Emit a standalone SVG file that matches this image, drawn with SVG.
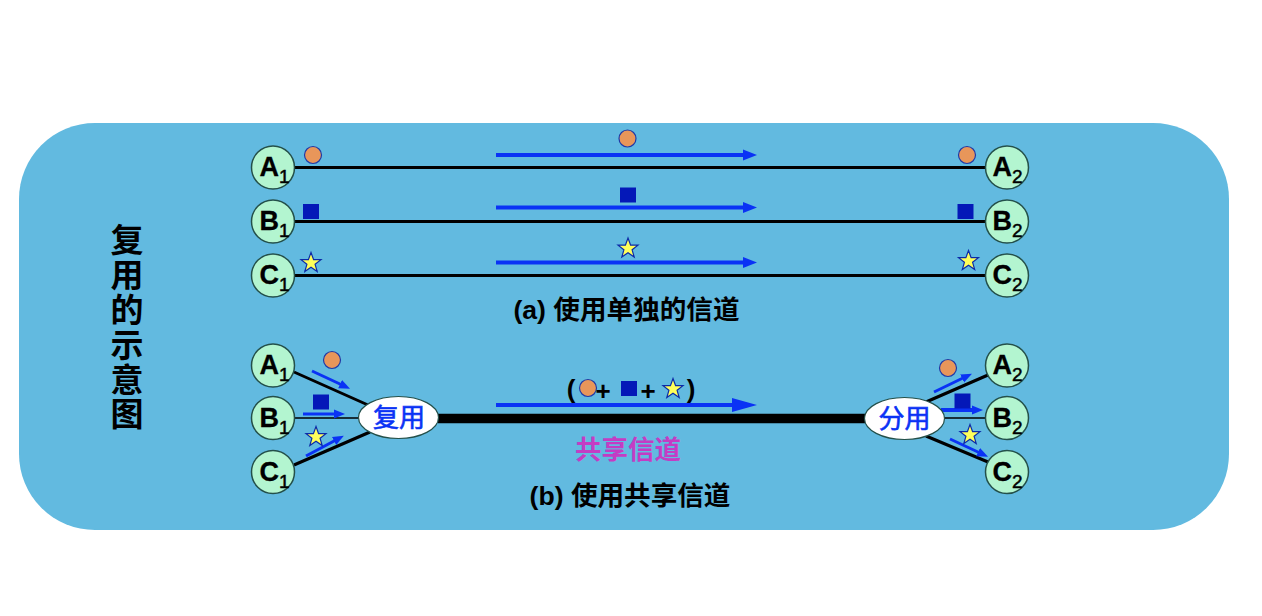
<svg xmlns="http://www.w3.org/2000/svg" width="1262" height="616" viewBox="0 0 1262 616">
<style>
text{font-family:"Liberation Sans","Noto Sans CJK SC",sans-serif}
.n{fill:#b3f5d0;stroke:#24504a;stroke-width:1.5}
.l{font-size:27px;font-weight:700;fill:#000;stroke:#000;stroke-width:.3}
.s{font-size:19px;font-weight:400;stroke:#000;stroke-width:.5}
.k{stroke:#000;fill:none}
.w3{stroke-width:3}
.w1{stroke-width:1.5}
.b{stroke:#0a32f5;stroke-width:4;fill:none}
.t{stroke:#0a32f5;stroke-width:3;fill:none}
.h{fill:#0a32f5}
.mux{fill:#fff;stroke:#24504a;stroke-width:1.2}
.mt{font-size:26px;font-weight:400;fill:#0a32f5;text-anchor:middle;stroke:#0a32f5;stroke-width:.6}
.cap{font-size:26.6px;font-weight:700;fill:#000;text-anchor:middle}
</style>
<defs>
<circle id="dot" r="8.5" fill="#e8965a" stroke="#1f3aa8" stroke-width="1.2"/>
<rect id="sq" x="-8" y="-7.500" width="16" height="15" fill="#0418b8"/>
<polygon id="star" points="0,-10.500 2.600,-3.400 10,-3.300 4.100,1.300 6.200,8.500 0,4.300 -6.200,8.500 -4.100,1.300 -10,-3.300 -2.600,-3.400" fill="#ffff5a" stroke="#0c2aa8" stroke-width="1.2"/>
<marker id="ah" markerUnits="userSpaceOnUse" markerWidth="14" markerHeight="12" refX="0" refY="6" orient="auto"><path d="M0,0.500L14,6L0,11.500Z" fill="#0a32f5"/></marker>
<marker id="as" markerUnits="userSpaceOnUse" markerWidth="12" markerHeight="10" refX="1" refY="5" orient="auto"><path d="M0,0.500L11,5L0,9.500Z" fill="#0a32f5"/></marker>
</defs>
<rect id="panel" x="19" y="123" width="1210" height="407" rx="76" ry="76" fill="#62bae0"/>
<text id="title" x="127 127 127 127 127 127" y="252 287 322 357 392 426" font-size="33" font-weight="700" text-anchor="middle">复用的示意图</text>
<g id="connectors">
<path class="k w3" d="M295 167.500H985M295 221.500H985M295 275.500H985"/>
<path class="k w3" d="M294 372L368 405M294 465L370 432M926 402L988 375M926 436L988 462"/>
<path class="k w1" d="M295 418H360M944 418H985"/>
<path d="M438 418.500H866" stroke="#000" stroke-width="9.500" fill="none"/>
<path class="b" d="M496 155H743" marker-end="url(#ah)"/>
<path class="b" d="M496 207.500H743" marker-end="url(#ah)"/>
<path class="b" d="M496 262.500H743" marker-end="url(#ah)"/>
<path class="t" d="M312 371L341 384.500" marker-end="url(#as)"/>
<path class="t" d="M303 414H335" marker-end="url(#as)"/>
<path class="t" d="M306 456L335 440.500" marker-end="url(#as)"/>
<path class="t" d="M934 392L963 378" marker-end="url(#as)"/>
<path class="b" d="M941 410H973" marker-end="url(#as)"/>
<path class="t" d="M950 439L979 452.500" marker-end="url(#as)"/>
<path class="b" d="M496 405H733"/>
<path class="h" d="M732 398L757 405L732 412Z"/>
</g>
<g id="tokens">
<use href="#dot" x="313" y="155"/><use href="#sq" x="311" y="211.500"/><use href="#star" x="311" y="263"/>
<use href="#dot" x="627.500" y="138.500"/><use href="#sq" x="628" y="195"/><use href="#star" x="628" y="248.500"/>
<use href="#dot" x="967" y="155"/><use href="#sq" x="965.500" y="211.500"/><use href="#star" x="968.500" y="261"/>
<use href="#dot" x="332" y="360"/><use href="#sq" x="321" y="402"/><use href="#star" x="316" y="437"/>
<use href="#dot" x="948" y="368"/><use href="#sq" x="962.500" y="401"/><use href="#star" x="970" y="435"/>
<use href="#dot" x="588" y="388"/><use href="#sq" x="629" y="388.500"/><use href="#star" x="673" y="389"/>
</g>
<g id="node-a1-top"><circle class="n" cx="273" cy="167.500" r="21.500"/><text class="l" x="259.500" y="176">A<tspan class="s" dy="7">1</tspan></text></g>
<g id="node-b1-top"><circle class="n" cx="273" cy="221.500" r="21.500"/><text class="l" x="259.500" y="230">B<tspan class="s" dy="7">1</tspan></text></g>
<g id="node-c1-top"><circle class="n" cx="273" cy="275.500" r="21.500"/><text class="l" x="259.500" y="284">C<tspan class="s" dy="7">1</tspan></text></g>
<g id="node-a2-top"><circle class="n" cx="1007" cy="167.500" r="21.500"/><text class="l" x="992.500" y="176">A<tspan class="s" dy="7">2</tspan></text></g>
<g id="node-b2-top"><circle class="n" cx="1007" cy="221.500" r="21.500"/><text class="l" x="992.500" y="230">B<tspan class="s" dy="7">2</tspan></text></g>
<g id="node-c2-top"><circle class="n" cx="1007" cy="275.500" r="21.500"/><text class="l" x="992.500" y="284">C<tspan class="s" dy="7">2</tspan></text></g>
<g id="node-a1-bot"><circle class="n" cx="273" cy="365.500" r="21.500"/><text class="l" x="259.500" y="374">A<tspan class="s" dy="7">1</tspan></text></g>
<g id="node-b1-bot"><circle class="n" cx="273" cy="418" r="21.500"/><text class="l" x="259.500" y="426.500">B<tspan class="s" dy="7">1</tspan></text></g>
<g id="node-c1-bot"><circle class="n" cx="273" cy="472" r="21.500"/><text class="l" x="259.500" y="480.500">C<tspan class="s" dy="7">1</tspan></text></g>
<g id="node-a2-bot"><circle class="n" cx="1007" cy="365.500" r="21.500"/><text class="l" x="992.500" y="374">A<tspan class="s" dy="7">2</tspan></text></g>
<g id="node-b2-bot"><circle class="n" cx="1007" cy="418" r="21.500"/><text class="l" x="992.500" y="426.500">B<tspan class="s" dy="7">2</tspan></text></g>
<g id="node-c2-bot"><circle class="n" cx="1007" cy="472" r="21.500"/><text class="l" x="992.500" y="480.500">C<tspan class="s" dy="7">2</tspan></text></g>
<g id="node-mux"><ellipse class="mux" cx="398.500" cy="417.500" rx="40" ry="21"/><text class="mt" x="399" y="427">复用</text></g>
<g id="node-demux"><ellipse class="mux" cx="904.500" cy="418.500" rx="40" ry="21"/><text class="mt" x="904.500" y="428">分用</text></g>
<g id="labels">
<text class="cap" x="626.500" y="318.500">(a) 使用单独的信道</text>
<text class="cap" x="630" y="504.500">(b) 使用共享信道</text>
<text x="628" y="459" font-size="26.500" font-weight="700" fill="#c43cc4" text-anchor="middle">共享信道</text>
<text x="571" y="398" font-size="26" font-weight="700" text-anchor="middle">(</text>
<text x="603" y="400" font-size="26" font-weight="700" text-anchor="middle">+</text>
<text x="648" y="400" font-size="26" font-weight="700" text-anchor="middle">+</text>
<text x="691" y="398" font-size="26" font-weight="700" text-anchor="middle">)</text>
</g>
</svg>
